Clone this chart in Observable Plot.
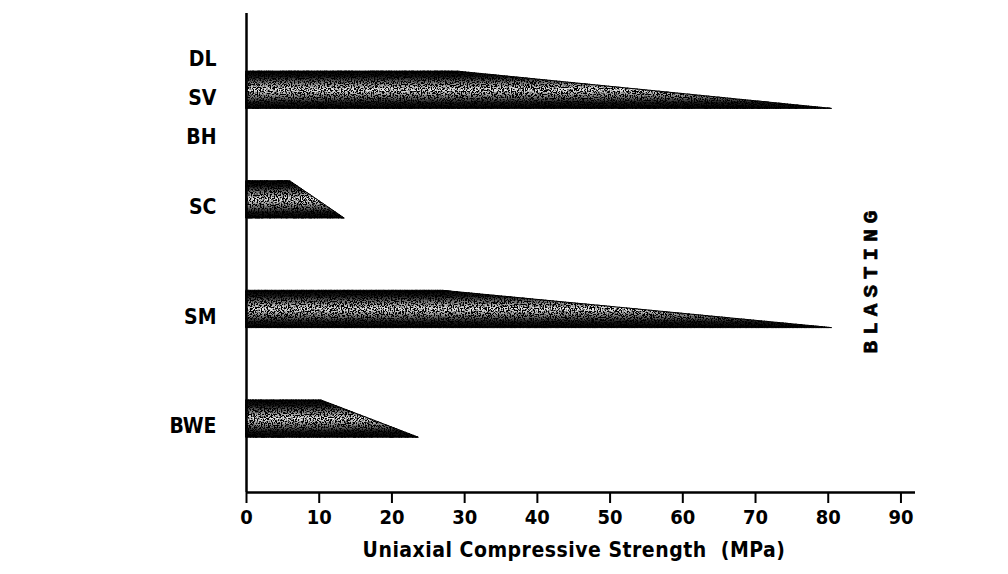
<!DOCTYPE html>
<html><head><meta charset="utf-8">
<script src="https://cdn.jsdelivr.net/npm/d3@7"></script>
<script src="https://cdn.jsdelivr.net/npm/@observablehq/plot@0.6"></script>
<style>
html,body{margin:0;padding:0;background:#fff;}
</style></head><body><div id="chart"></div>
<script>
// ---- data ----
const categories = ["DL\nSV\nBH", "SC", "SM", "BWE"];
const fullUntil  = [29, 6, 27, 10.3];        // MPa where the bar starts to taper
const maxValue   = [80.5, 13.5, 80.5, 23.7]; // MPa where the bar ends
const xTicks     = [0, 10, 20, 30, 40, 50, 60, 70, 80, 90];
const xLabel     = "Uniaxial Compressive Strength  (MPa)";
const sideLabel  = "BLASTING";

// ---- shape building ----
const half = 0.17;
const yMin = -0.70, yMax = categories.length - 1 + 0.67;
const rows = [];
categories.forEach((c, i) => {
  rows.push({cat: c, x: 0,            top: i - half, bottom: i + half});
  rows.push({cat: c, x: fullUntil[i], top: i - half, bottom: i + half});
  rows.push({cat: c, x: maxValue[i],  top: i + half, bottom: i + half});
});

const narrow = "'Liberation Sans Narrow','DejaVu Sans Condensed','Arial Narrow',sans-serif";

const chart = Plot.plot({
  width: 1008,
  height: 574,
  marginLeft: 246,
  marginRight: 93,
  marginTop: 13,
  marginBottom: 82,
  style: {background: "#fff", color: "#000"},
  x: {domain: [0, 92]},
  y: {domain: [yMin, yMax], reverse: true, axis: null},
  marks: [
    Plot.areaY(rows, {x: "x", y1: "bottom", y2: "top", z: "cat", fill: "url(#barfill)", stroke: "#000", strokeWidth: 1}),
    Plot.ruleX([0], {stroke: "#000", strokeWidth: 2.5}),
    Plot.ruleY([yMax], {stroke: "#000", strokeWidth: 2.5}),
    Plot.axisX(xTicks, {tickSize: 11, tickPadding: 6, strokeWidth: 2, fontSize: 20, fontWeight: "bold", fontFamily: narrow, label: null}),
    Plot.text(categories, {x: 0, y: (d, i) => i, dx: -30, dy: 2, textAnchor: "end", lineHeight: 1.85, fontSize: 21, fontWeight: "bold", fontFamily: narrow}),
    Plot.text([xLabel], {frameAnchor: "bottom", textAnchor: "middle", dx: -7, dy: 64, fontSize: 21, fontWeight: "bold", fontFamily: narrow}),
    Plot.text([sideLabel], {frameAnchor: "right", textAnchor: "middle", dx: -45, dy: 26, rotate: -90, fontSize: 21, fontWeight: "bold", fontFamily: "'Liberation Mono','DejaVu Sans Mono',monospace", fill: "#000", stroke: "#000", strokeWidth: 0.7})
  ]
});

// textured fill definitions
const svg = d3.select(chart);
const defs = svg.insert("defs", ":first-child");
const grad = defs.append("linearGradient").attr("id", "barfill").attr("x1", 0).attr("y1", 0).attr("x2", 0).attr("y2", 1);
[[0, "#000"], [0.15, "#1a1a1a"], [0.5, "#f0f0f0"], [0.85, "#1a1a1a"], [1, "#000"]].forEach(([o, c]) =>
  grad.append("stop").attr("offset", o).attr("stop-color", c));
const f = defs.append("filter").attr("id", "speckle").attr("x", "-5%").attr("y", "-20%").attr("width", "110%").attr("height", "140%");
f.append("feTurbulence").attr("type", "fractalNoise").attr("baseFrequency", 0.7).attr("numOctaves", 2).attr("seed", 4).attr("result", "noise");
f.append("feColorMatrix").attr("in", "noise").attr("type", "matrix")
  .attr("values", "0 0 0 0 1  0 0 0 0 1  0 0 0 0 1  7 0 0 0 -3.1").attr("result", "specks");
f.append("feComposite").attr("in", "SourceGraphic").attr("in2", "specks").attr("operator", "in").attr("result", "lit");
f.append("feFlood").attr("flood-color", "#000").attr("result", "blk");
f.append("feComposite").attr("in", "blk").attr("in2", "SourceAlpha").attr("operator", "in").attr("result", "base");
const m = f.append("feMerge");
m.append("feMergeNode").attr("in", "base");
m.append("feMergeNode").attr("in", "lit");
svg.selectAll("g[aria-label='area'] path").attr("filter", "url(#speckle)");
svg.selectAll("g[aria-label='text']").filter((d, i, n) => d3.select(n[i]).text() === sideLabel).style("letter-spacing", "6px");
svg.selectAll("g[aria-label='text']").filter((d, i, n) => d3.select(n[i]).text() === xLabel).style("letter-spacing", "0.5px");

document.getElementById("chart").appendChild(chart);
</script></body></html>
